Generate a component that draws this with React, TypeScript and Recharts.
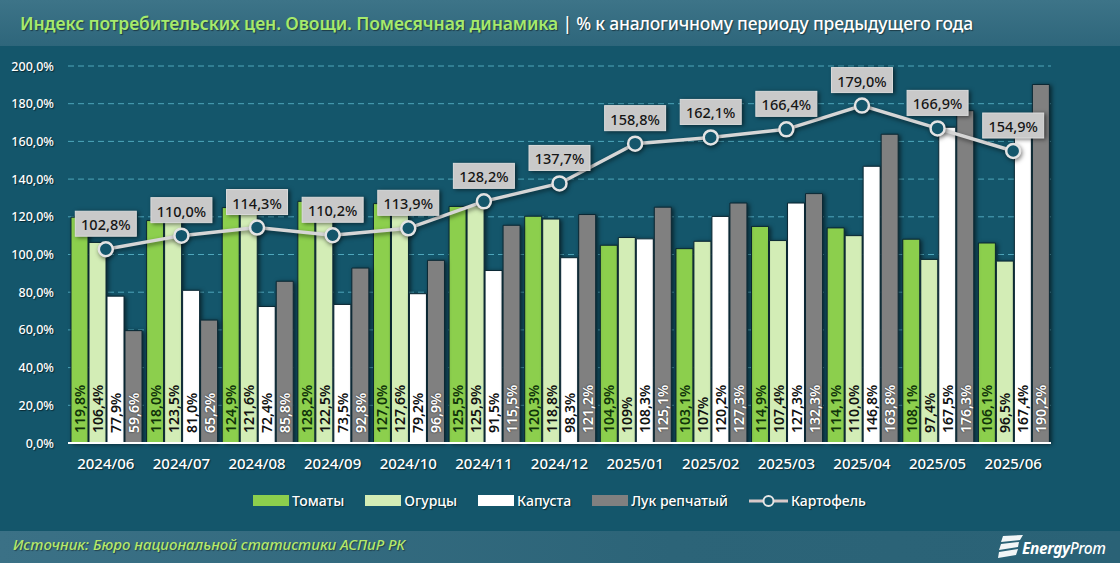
import { Bar, Line, ComposedChart, XAxis, YAxis, CartesianGrid, LabelList, Legend } from "recharts";

const months = ["2024/06", "2024/07", "2024/08", "2024/09", "2024/10", "2024/11", "2024/12", "2025/01", "2025/02", "2025/03", "2025/04", "2025/05", "2025/06"];
const tomatoes = [119.8, 118.0, 124.9, 128.2, 127.0, 125.5, 120.3, 104.9, 103.1, 114.9, 114.1, 108.1, 106.1];
const cucumbers = [106.4, 123.5, 121.6, 122.5, 127.6, 125.9, 118.8, 109, 107, 107.4, 110.0, 97.4, 96.5];
const cabbage = [77.9, 81.0, 72.4, 73.5, 79.2, 91.5, 98.3, 108.3, 120.2, 127.3, 146.8, 167.5, 167.4];
const onions = [59.6, 65.2, 85.8, 92.8, 96.9, 115.5, 121.2, 125.1, 127.3, 132.3, 163.8, 176.3, 190.2];
const potatoes = [102.8, 110.0, 114.3, 110.2, 113.9, 128.2, 137.7, 158.8, 162.1, 166.4, 179.0, 166.9, 154.9];
const yTicks = [0, 20, 40, 60, 80, 100, 120, 140, 160, 180, 200];

const rows = months.map((month, i) => ({
  month,
  tomatoes: tomatoes[i],
  cucumbers: cucumbers[i],
  cabbage: cabbage[i],
  onions: onions[i],
  potatoes: potatoes[i],
}));

const FONT = "'Noto Sans', sans-serif";
const BG = "#14566b";
const AXIS_SHADOW = "1px 1px 1px rgba(0,0,0,.55)";
const BAR_STYLE = { filter: "drop-shadow(2px 1px 2px rgba(0,0,0,.55))" };
const BAR_EDGE = "#0a2733";

// the source chart drops the decimal on these two cucumber values
const fmt = (v: number) => `${v.toFixed(1).replace(".", ",")}%`;
const fmtCucumber = (v: number, i: number) => (i === 7 || i === 8 ? `${v}%` : fmt(v));

const barLabel = (color: string, format: (v: number, i: number) => string = fmt) => (p: any) => {
  const cx = p.x + p.width / 2;
  const base = p.y + p.height - 10;
  return (
    <text
      transform={`translate(${cx},${base}) rotate(-90)`}
      fill={color}
      fontFamily={FONT}
      fontSize={14}
      fontWeight={600}
      dominantBaseline="central"
      style={{ textShadow: color === "#fff" ? "0 0 2px rgba(0,0,0,.8)" : "none" }}
    >
      {format(p.value, p.index)}
    </text>
  );
};

const potatoLabel = (p: any) => {
  const w = 61;
  const h = 25;
  return (
    <g>
      <rect x={p.x - w / 2} y={p.y - 38} width={w} height={h} fill="#c9c9c9" stroke="#dcdcdc" strokeWidth={1} style={BAR_STYLE} />
      <text x={p.x} y={p.y - 25} textAnchor="middle" dominantBaseline="central" fontFamily={FONT} fontSize={14.5} fontWeight={500} fill="#151515">
        {fmt(p.value)}
      </text>
    </g>
  );
};

const LeftTick = ({ x, y, payload }: any) => (
  <text x={x} y={y} textAnchor="end" dominantBaseline="central" fill="#fff" fontFamily={FONT} fontSize={12.5} fontWeight={500} style={{ textShadow: AXIS_SHADOW }}>
    {fmt(payload.value)}
  </text>
);

const RightTick = ({ x, y, payload }: any) => (
  <text x={x} y={y} textAnchor="start" dominantBaseline="central" fill="#fff" fontFamily={FONT} fontSize={12.5} fontWeight={500} style={{ textShadow: AXIS_SHADOW }}>
    {fmt(payload.value)}
  </text>
);

const MonthTick = ({ x, y, payload }: any) => (
  <text x={x} y={y} textAnchor="middle" dominantBaseline="central" fill="#fff" fontFamily={FONT} fontSize={15} fontWeight={500} style={{ textShadow: AXIS_SHADOW }}>
    {payload.value}
  </text>
);

const LegendRow = ({ payload }: any) => (
  <div style={{ display: "flex", alignItems: "center", paddingLeft: 253, gap: 21, fontFamily: FONT, fontSize: 14, fontWeight: 500, color: "#fff", textShadow: AXIS_SHADOW }}>
    {(payload || []).map((item: any) => (
      <span key={item.value} style={{ display: "flex", alignItems: "center", gap: 3 }}>
        {item.type === "line" ? (
          <svg width={39} height={16}>
            <line x1={0} x2={39} y1={8} y2={8} stroke="#d9c9c9" strokeWidth={3} />
            <circle cx={19.5} cy={8} r={5} fill={BG} stroke="#e6e6e6" strokeWidth={2} />
          </svg>
        ) : (
          <span style={{ width: 36, height: 11, background: item.color, display: "block" }} />
        )}
        {item.value}
      </span>
    ))}
  </div>
);

const EnergyPromLogo = () => (
  <div style={{ position: "absolute", left: 998, top: 533, display: "flex", alignItems: "center" }}>
    <svg width={26} height={25} viewBox="0 0 26 25">
      <path d="M5 2 L25 1 L22 6 L3 8 Z M3 10 L21 8 L20 13 L1 16 Z M1 18 L20 15 L18 21 L0 24 Z" fill="#f2f6f7" />
    </svg>
    <span style={{ fontFamily: FONT, fontStyle: "italic", fontSize: 15.5, color: "#fff", marginLeft: -2, marginTop: 4, letterSpacing: -0.4 }}>
      <b>Energy</b>
      <span style={{ fontWeight: 500 }}>Prom</span>
    </span>
  </div>
);

export default function App() {
  return (
    <div style={{ position: "absolute", left: 0, top: 0, width: 1120, height: 563, overflow: "hidden", background: BG }}>
      <div style={{ position: "absolute", left: 0, top: 0, width: 1120, height: 46, background: "linear-gradient(180deg,#3d7488 0%,#2e667b 100%)" }} />
      <div style={{ position: "absolute", left: 0, top: 531, width: 1120, height: 32, background: "linear-gradient(90deg,#3b7186 0%,#2c6478 60%,#2a6276 100%)" }} />
      <div style={{ position: "absolute", left: 20, top: 11, fontFamily: FONT, fontSize: 17.5, fontWeight: 600, whiteSpace: "pre", textShadow: "1px 1px 1px rgba(0,0,0,.45)" }}>
        <span style={{ color: "#a6ea6c", letterSpacing: -0.1 }}>Индекс потребительских цен. Овощи. Помесячная динамика</span>
        <span style={{ color: "#fff", fontWeight: 500, letterSpacing: -0.2 }}> | % к аналогичному периоду предыдущего года</span>
      </div>
      <ComposedChart
        width={1120}
        height={563}
        data={rows}
        barCategoryGap={3}
        barGap={1}
        margin={{ top: 66, right: 0, bottom: 0, left: 0 }}
        style={{ position: "absolute", left: 0, top: 0 }}
      >
        <CartesianGrid yAxisId="left" horizontal vertical={false} stroke="#4ea6bb" strokeDasharray="6 4" strokeWidth={1} />
        <XAxis dataKey="month" tick={<MonthTick />} tickLine={false} axisLine={{ stroke: "#fff", strokeWidth: 2 }} interval={0} height={120} tickMargin={14} />
        <YAxis yAxisId="left" orientation="left" domain={[0, 200]} ticks={yTicks} width={68} tick={<LeftTick />} tickLine={false} axisLine={false} tickMargin={8} />
        <YAxis yAxisId="right" orientation="right" domain={[0, 200]} ticks={yTicks} width={69} tick={<RightTick />} tickLine={false} axisLine={false} tickMargin={13} />
        <Bar yAxisId="left" name="Томаты" dataKey="tomatoes" fill="#8ccf4d" stroke={BAR_EDGE} strokeWidth={1} style={BAR_STYLE} isAnimationActive={false}>
          <LabelList dataKey="tomatoes" content={barLabel("#10330a")} />
        </Bar>
        <Bar yAxisId="left" name="Огурцы" dataKey="cucumbers" fill="#d3edb6" stroke={BAR_EDGE} strokeWidth={1} style={BAR_STYLE} isAnimationActive={false}>
          <LabelList dataKey="cucumbers" content={barLabel("#111", fmtCucumber)} />
        </Bar>
        <Bar yAxisId="left" name="Капуста" dataKey="cabbage" fill="#ffffff" stroke={BAR_EDGE} strokeWidth={1} style={BAR_STYLE} isAnimationActive={false}>
          <LabelList dataKey="cabbage" content={barLabel("#111")} />
        </Bar>
        <Bar yAxisId="left" name="Лук репчатый" dataKey="onions" fill="#808080" stroke={BAR_EDGE} strokeWidth={1} style={BAR_STYLE} isAnimationActive={false}>
          <LabelList dataKey="onions" content={barLabel("#fff")} />
        </Bar>
        <Line
          yAxisId="left"
          name="Картофель"
          dataKey="potatoes"
          stroke="#d6d6d6"
          strokeWidth={3.5}
          dot={{ r: 7, fill: BG, stroke: "#e4e4e4", strokeWidth: 2.5 }}
          legendType="line"
          style={{ filter: "drop-shadow(1px 2px 2px rgba(0,0,0,.5))" }}
          isAnimationActive={false}
        >
          <LabelList dataKey="potatoes" content={potatoLabel} />
        </Line>
        <Legend verticalAlign="middle" layout="horizontal" itemSorter={null} content={<LegendRow />} wrapperStyle={{ position: "absolute", left: 0, top: 491, width: 1120 }} />
      </ComposedChart>
      <div style={{ position: "absolute", left: 13, top: 534, fontFamily: FONT, fontStyle: "italic", fontWeight: 500, fontSize: 15, color: "#b5e86a", textShadow: "1px 1px 1px rgba(0,0,0,.4)" }}>
        Источник: Бюро национальной статистики АСПиР РК
      </div>
      <EnergyPromLogo />
    </div>
  );
}
